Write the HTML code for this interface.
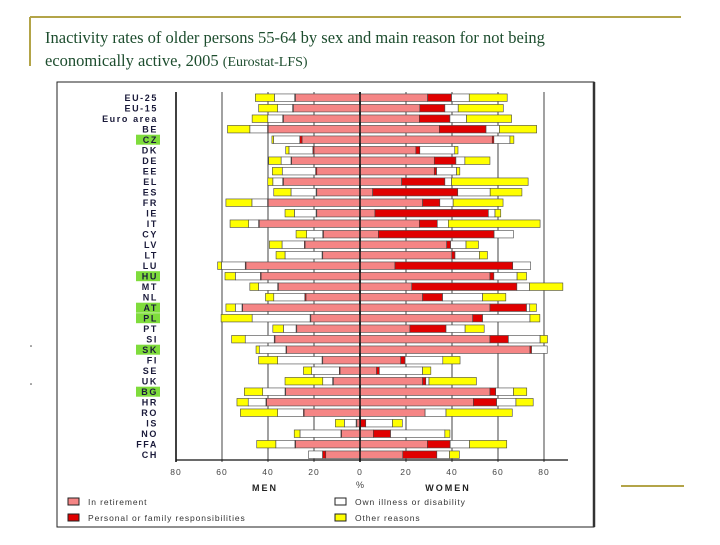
<!DOCTYPE html>
<html><head><meta charset="utf-8"><style>
body{margin:0;background:#fff;width:720px;height:540px;overflow:hidden;font-family:"Liberation Sans",sans-serif}
</style></head><body>
<svg width="720" height="540" xmlns="http://www.w3.org/2000/svg">
<line x1="30" y1="17" x2="681" y2="17" stroke="#b3a448" stroke-width="2"/>
<line x1="30" y1="17" x2="30" y2="66" stroke="#b3a448" stroke-width="2"/>
<line x1="621" y1="486" x2="684" y2="486" stroke="#b3a448" stroke-width="2"/>
<text x="45" y="43" font-family="Liberation Serif,serif" font-size="16.5" fill="#1d4d2e">Inactivity rates of older persons 55-64 by sex and main reason for not being</text>
<text x="45" y="66" font-family="Liberation Serif,serif" font-size="16.5" fill="#1d4d2e">economically active, 2005 <tspan font-size="14">(Eurostat-LFS)</tspan></text>
<circle cx="31" cy="346" r="0.8" fill="#444"/>
<circle cx="31" cy="384" r="0.8" fill="#444"/>
<rect x="57" y="82" width="537" height="445" fill="none" stroke="#222" stroke-width="1"/>
<line x1="594" y1="82" x2="594" y2="527" stroke="#333" stroke-width="2.5"/>
<g id="chart"></g>
</svg>
<script>
const countries=["EU-25","EU-15","Euro area","BE","CZ","DK","DE","EE","EL","ES","FR","IE","IT","CY","LV","LT","LU","HU","MT","NL","AT","PL","PT","SI","SK","FI","SE","UK","BG","HR","RO","IS","NO","FFA","CH"];
const highlighted=["CZ","HU","AT","PL","SK","BG"];
const menRetire=[28.1,29,33.3,39.9,25.2,20,29.7,18.8,33.3,18.8,39.9,18.8,43.8,15.9,23.9,16.2,49.6,43,35.5,23.5,51,21.4,27.5,37,31.9,16.2,8.7,11.6,32.3,40.6,24.3,1.4,8,28,14.9];
const menPersonal=[0.3,0.3,0.3,0.3,1,0.5,0.3,0.5,0.3,0.3,0.3,0.3,0.3,0.3,0.3,0.3,0.3,0.3,0.3,0.5,0.3,0.3,0.3,0.3,0.3,0.3,0.3,0.3,0.3,0.3,0.3,0.3,0.3,0.3,1.4];
const menIllness=[8.8,6.5,6.5,7.7,11.4,10.4,4.3,14.5,4.3,10.9,6.8,9.4,4.3,7,9.7,16.1,10.3,10.9,8.3,13.5,2.9,25.2,5.5,12.6,11.6,19.3,12,4.3,9.7,7.7,11.2,5.1,17.8,8.3,6.1];
const menOther=[8.3,8.3,6.8,9.7,0.7,1.4,5.4,4.3,2.2,7.5,11.3,4.1,8.1,4.6,5.5,3.9,1.7,4.5,3.8,3.6,4.1,13.5,4.6,5.9,1.4,8.3,3.6,16.4,8,4.9,16.2,3.9,2.5,8.3,0];
const womenRetire=[29.4,26,25.8,34.5,57.5,24.3,32.3,32.3,18.1,5.5,27.2,6.5,25.8,8,37.7,39.9,15.2,56.5,22.5,27.2,56.5,49,21.7,56.5,73.9,17.7,7.2,27.2,56.5,49.3,28.3,0.3,5.8,29.3,18.6];
const womenPersonal=[10.4,10.9,13.3,20.3,0.7,1.7,9.4,1,18.8,37,7.5,49.3,7.8,50.3,1.7,1.4,51.2,1.7,45.7,8.7,15.9,4.3,15.7,8,0.7,1.9,1.2,1.4,2.5,10.1,0,2.2,7.5,9.9,14.8];
const womenIllness=[7.7,5.8,7.2,5.8,7,15.2,3.9,8.7,2.9,14.1,5.8,2.9,4.8,8.4,6.7,10.6,7.8,10.1,5.5,17.4,1.4,20.6,8.3,13.8,6.8,16.4,18.8,1.4,7.7,8.4,9.1,11.6,23.6,8.4,5.5];
const womenOther=[16.5,19.6,19.6,16.2,1.7,1.4,10.9,1.4,33.3,13.8,21.7,2.5,39.9,0,5.4,3.5,0,4.1,14.5,10.1,2.9,4.3,8.3,3.2,0,7.5,3.6,20.6,5.8,7.5,28.8,4.3,2.2,16.2,4.3];
const ticks=[-80,-60,-40,-20,0,20,40,60,80];
const tickLabels=["80","60","40","20","0","20","40","60","80"];
const legendLabels=["In retirement","Personal or family responsibilities","Own illness or disability","Other reasons"];

const NS="http://www.w3.org/2000/svg";
const g=document.getElementById('chart');
const X0=360,K=2.3,TOP=92,BOT=460,Y0=97.7,STEP=10.5,BH=7.5;
const xs=v=>X0+v*K;
const ys=i=>Y0+i*STEP;
function mk(t,a){const e=document.createElementNS(NS,t);for(const k in a)e.setAttribute(k,a[k]);g.appendChild(e);return e;}
ticks.forEach((t,i)=>{
 const l=mk('line',{x1:xs(t),x2:xs(t),y1:TOP,y2:BOT+2,stroke:t===-80||t===0?'#111':'#555','stroke-width':t===-80||t===0?1.6:1.1});
 
 
 const tx=mk('text',{x:xs(t),y:475,'text-anchor':'middle','font-size':8.5,fill:'#444','letter-spacing':'1'});
 tx.textContent=tickLabels[i];
 
 
});
const ax=mk('line',{x1:xs(-80),x2:568,y1:BOT,y2:BOT,stroke:'#111','stroke-width':1.2});


const colors=['#f58585','#e00000','#ffffff','#ffff00'];
const names=['retirement','personal','illness','other'];
countries.forEach((c,i)=>{
 const y=ys(i);
 if(highlighted.includes(c)){
  const hb=mk('rect',{x:136,y:y-5,width:24,height:10,fill:'#7fdc3c'});
  
  
 }
 const lb=mk('text',{x:158,y:y+3.5,'text-anchor':'end','font-size':9,'font-weight':'bold',fill:'#1a1a3a','letter-spacing':'1.6'});
 lb.textContent=c;
 
 
 const men=[menRetire[i],menPersonal[i],menIllness[i],menOther[i]];
 const wom=[womenRetire[i],womenPersonal[i],womenIllness[i],womenOther[i]];
 let a=0;
 men.forEach((v,j)=>{if(v<=0)return;
  const r=mk('rect',{x:xs(-(a+v)),y:y-BH/2,width:v*K,height:BH,fill:colors[j],stroke:'#444','stroke-width':0.6});
  
  
  a+=v;});
 a=0;
 wom.forEach((v,j)=>{if(v<=0)return;
  const r=mk('rect',{x:xs(a),y:y-BH/2,width:v*K,height:BH,fill:colors[j],stroke:'#444','stroke-width':0.6});
  
  
  a+=v;});
});
const zl=mk('line',{x1:X0,x2:X0,y1:TOP,y2:BOT,stroke:'#111','stroke-width':1.5});


const t1=mk('text',{x:265,y:491,'text-anchor':'middle','font-size':9,'font-weight':'bold',fill:'#222','letter-spacing':'2'});
t1.textContent='MEN';


const t2=mk('text',{x:360,y:488,'text-anchor':'middle','font-size':9,fill:'#444'});
t2.textContent='%';


const t3=mk('text',{x:448,y:491,'text-anchor':'middle','font-size':9,'font-weight':'bold',fill:'#222','letter-spacing':'2'});
t3.textContent='WOMEN';


const lpos=[[68,502],[68,518],[335,502],[335,518]];
legendLabels.forEach((s,i)=>{
 const sw=mk('rect',{x:lpos[i][0],y:lpos[i][1]-4,width:11,height:7,fill:colors[i],stroke:'#222','stroke-width':1});
 
 
 const tx=mk('text',{x:lpos[i][0]+20,y:lpos[i][1]+3,'font-size':8.5,fill:'#333','letter-spacing':'0.9'});
 tx.textContent=s;
 
 
});
</script>
</body></html>
